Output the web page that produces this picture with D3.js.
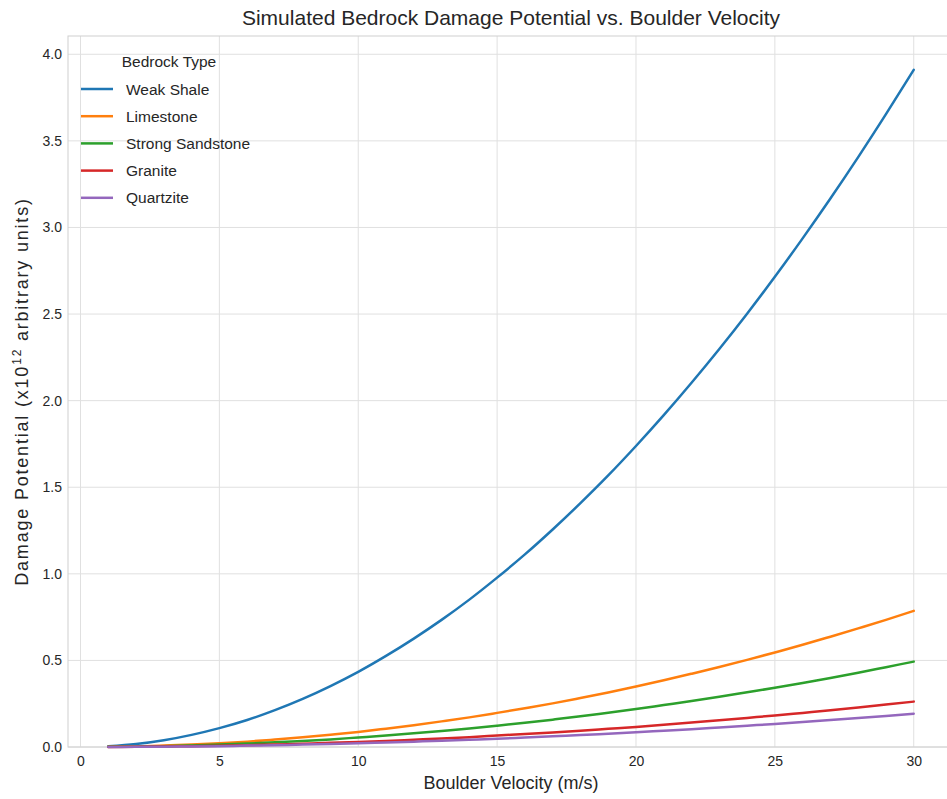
<!DOCTYPE html>
<html>
<head>
<meta charset="utf-8">
<script src="https://cdn.jsdelivr.net/npm/d3@7"></script>
<style>
  html, body { margin: 0; padding: 0; background: #ffffff; }
  svg text { font-family: "Liberation Sans", Arial, Helvetica, sans-serif; fill: #262626; }
</style>
</head>
<body>
<svg id="chart" width="947" height="799"></svg>
<script>
// Boulder velocity samples (m/s)
const velocity = [1, 2, 3, 4, 5, 6, 7, 8, 9, 10, 11, 12, 13, 14, 15,
                  16, 17, 18, 19, 20, 21, 22, 23, 24, 25, 26, 27, 28, 29, 30];

// Damage potential per bedrock type (x10^12 arbitrary units)
const weakShale = [0.004, 0.017, 0.039, 0.070, 0.109, 0.156, 0.213, 0.278, 0.352, 0.434,
                   0.526, 0.626, 0.734, 0.851, 0.978, 1.112, 1.256, 1.408, 1.568, 1.738,
                   1.916, 2.103, 2.298, 2.502, 2.715, 2.937, 3.167, 3.406, 3.654, 3.910];
const limestone = [0.001, 0.003, 0.008, 0.014, 0.022, 0.031, 0.043, 0.056, 0.071, 0.087,
                   0.106, 0.126, 0.148, 0.171, 0.197, 0.224, 0.252, 0.283, 0.315, 0.349,
                   0.385, 0.423, 0.462, 0.503, 0.546, 0.590, 0.637, 0.685, 0.734, 0.786];
const strongSandstone = [0.001, 0.002, 0.005, 0.009, 0.014, 0.020, 0.027, 0.035, 0.044, 0.055,
                   0.066, 0.079, 0.093, 0.107, 0.123, 0.140, 0.158, 0.177, 0.198, 0.219,
                   0.242, 0.265, 0.290, 0.316, 0.342, 0.370, 0.399, 0.429, 0.461, 0.493];
const granite = [0.000, 0.001, 0.003, 0.005, 0.007, 0.010, 0.014, 0.019, 0.024, 0.029,
                   0.035, 0.042, 0.049, 0.057, 0.066, 0.075, 0.084, 0.094, 0.105, 0.116,
                   0.128, 0.141, 0.154, 0.168, 0.182, 0.197, 0.212, 0.228, 0.245, 0.262];
const quartzite = [0.000, 0.001, 0.002, 0.003, 0.005, 0.008, 0.010, 0.014, 0.017, 0.021,
                   0.026, 0.031, 0.036, 0.042, 0.048, 0.055, 0.062, 0.069, 0.077, 0.085,
                   0.094, 0.103, 0.113, 0.123, 0.133, 0.144, 0.156, 0.167, 0.179, 0.192];

const seriesNames = ["Weak Shale", "Limestone", "Strong Sandstone", "Granite", "Quartzite"];
const seriesValues = [weakShale, limestone, strongSandstone, granite, quartzite];
const seriesColors = ["#1f77b4", "#ff7f0e", "#2ca02c", "#d62728", "#9467bd"];

const xTicks = [0, 5, 10, 15, 20, 25, 30];
const yTicks = [0.0, 0.5, 1.0, 1.5, 2.0, 2.5, 3.0, 3.5, 4.0];

const svg = d3.select("#chart");
const plot = { left: 68, top: 36, right: 954, bottom: 747 };

const x = d3.scaleLinear().domain([-0.45, 31.45]).range([plot.left, plot.right]);
const y = d3.scaleLinear().domain([0, 4.1055]).range([plot.bottom, plot.top]);

// Grid lines
const grid = svg.append("g");
grid.selectAll("line.vx").data(xTicks).join("line")
  .attr("x1", d => x(d)).attr("x2", d => x(d))
  .attr("y1", plot.top).attr("y2", plot.bottom)
  .attr("stroke", "#e0e0e0").attr("stroke-width", 1);
grid.selectAll("line.hy").data(yTicks).join("line")
  .attr("x1", plot.left).attr("x2", plot.right)
  .attr("y1", d => y(d)).attr("y2", d => y(d))
  .attr("stroke", "#e0e0e0").attr("stroke-width", 1);

// Frame
svg.append("rect")
  .attr("x", plot.left).attr("y", plot.top)
  .attr("width", plot.right - plot.left).attr("height", plot.bottom - plot.top)
  .attr("fill", "none").attr("stroke", "#d0d0d0").attr("stroke-width", 1);

// Axes (labels only, no tick marks)
const xAxis = svg.append("g")
  .attr("transform", `translate(0,${plot.bottom})`)
  .call(d3.axisBottom(x).tickValues(xTicks).tickFormat(d3.format("d")).tickSize(0).tickPadding(9));
const yAxis = svg.append("g")
  .attr("transform", `translate(${plot.left},0)`)
  .call(d3.axisLeft(y).tickValues(yTicks).tickFormat(d3.format(".1f")).tickSize(0).tickPadding(6));
[xAxis, yAxis].forEach(a => {
  a.select(".domain").remove();
  a.selectAll("text").style("font-size", "14px")
    .style("font-family", "'Liberation Sans', Arial, sans-serif").attr("fill", "#262626");
});

// Curves
const line = d3.line()
  .x((d, i) => x(velocity[i]))
  .y(d => y(d))
  .curve(d3.curveMonotoneX);

svg.append("g").selectAll("path").data(seriesValues).join("path")
  .attr("d", d => line(d))
  .attr("fill", "none")
  .attr("stroke", (d, i) => seriesColors[i])
  .attr("stroke-width", 2.5)
  .attr("stroke-linecap", "round");

// Title
svg.append("text")
  .attr("x", (plot.left + plot.right) / 2).attr("y", 25)
  .attr("text-anchor", "middle")
  .style("font-size", "21px")
  .text("Simulated Bedrock Damage Potential vs. Boulder Velocity");

// Axis titles
svg.append("text")
  .attr("x", (plot.left + plot.right) / 2).attr("y", 789)
  .attr("text-anchor", "middle")
  .style("font-size", "18px")
  .text("Boulder Velocity (m/s)");

const yl = svg.append("text")
  .attr("transform", `translate(28,${(plot.top + plot.bottom) / 2}) rotate(-90)`)
  .attr("text-anchor", "middle")
  .style("font-size", "18px")
  .style("letter-spacing", "1.8px");
yl.append("tspan").text("Damage Potential (x10");
yl.append("tspan").attr("dy", -7).style("font-size", "12px").text("12");
yl.append("tspan").attr("dy", 7).text(" arbitrary units)");

// Legend
const legend = svg.append("g");
legend.append("text")
  .attr("x", 169).attr("y", 67)
  .attr("text-anchor", "middle")
  .style("font-size", "15.5px")
  .text("Bedrock Type");
const rows = legend.selectAll("g.row").data(seriesNames).join("g")
  .attr("transform", (d, i) => `translate(0,${89 + i * 27.2})`);
rows.append("line")
  .attr("x1", 81).attr("x2", 113).attr("y1", 0).attr("y2", 0)
  .attr("stroke", (d, i) => seriesColors[i]).attr("stroke-width", 2.5);
rows.append("text")
  .attr("x", 126).attr("y", 5.5)
  .style("font-size", "15.5px")
  .text(d => d);
</script>
</body>
</html>
